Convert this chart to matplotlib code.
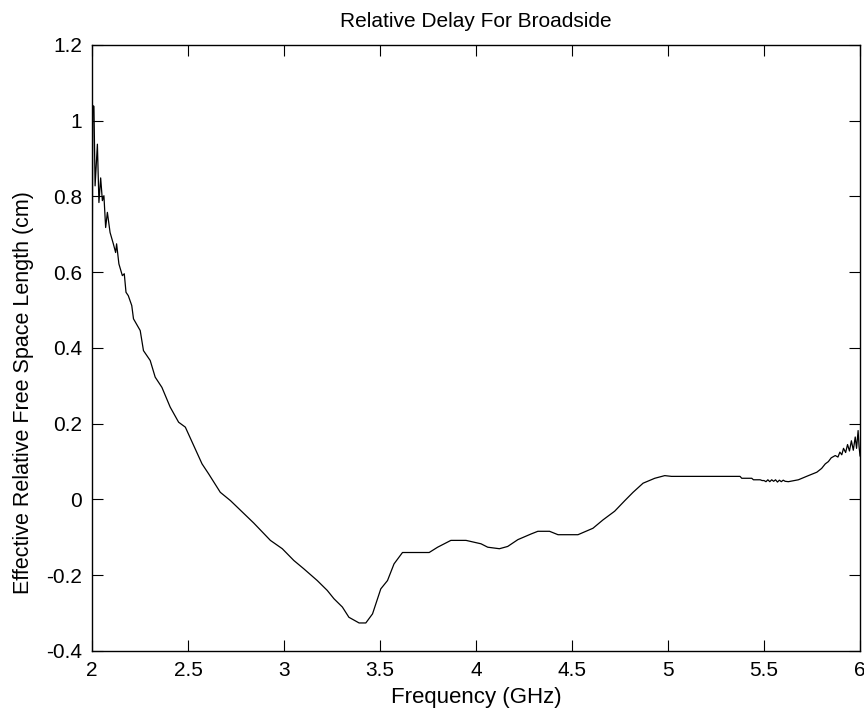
import numpy as np
import matplotlib
matplotlib.use("Agg")
import matplotlib.pyplot as plt

plt.rcParams['font.family'] = ['Liberation Sans', 'DejaVu Sans']

# frequency (GHz) and effective relative free space length (cm)
freq = [2.000, 2.004, 2.010, 2.016, 2.028, 2.036, 2.045, 2.054, 2.062, 2.071,
        2.080, 2.094, 2.111, 2.123, 2.128, 2.140, 2.158, 2.168, 2.177, 2.189,
        2.207, 2.216, 2.251, 2.268, 2.303, 2.329, 2.364, 2.407, 2.451, 2.486,
        2.573, 2.607, 2.668, 2.721, 2.842, 2.929, 2.991, 3.051, 3.103, 3.173,
        3.225, 3.260, 3.304, 3.338, 3.391, 3.426, 3.461, 3.504, 3.539, 3.573,
        3.617, 3.756, 3.800, 3.869, 3.948, 3.974, 4.026, 4.061, 4.122, 4.165,
        4.218, 4.287, 4.322, 4.383, 4.427, 4.531, 4.609, 4.661, 4.722, 4.775,
        4.818, 4.870, 4.931, 4.983, 5.018, 5.375, 5.384, 5.436, 5.445, 5.480,
        5.490, 5.500, 5.510, 5.520, 5.530, 5.540, 5.550, 5.560, 5.570, 5.580,
        5.590, 5.600, 5.610, 5.627, 5.679, 5.731, 5.775, 5.800, 5.819, 5.835,
        5.850, 5.871, 5.885, 5.895, 5.905, 5.914, 5.925, 5.935, 5.945, 5.955,
        5.965, 5.975, 5.982, 5.990, 5.995, 6.000]
length = [0.400, 1.040, 1.038, 0.828, 0.938, 0.784, 0.849, 0.789, 0.802, 0.718,
          0.758, 0.705, 0.675, 0.652, 0.675, 0.622, 0.591, 0.596, 0.547, 0.538,
          0.512, 0.477, 0.446, 0.393, 0.367, 0.323, 0.296, 0.244, 0.204, 0.191,
          0.094, 0.068, 0.019, -0.003, -0.062, -0.108, -0.130, -0.161, -0.183, -0.214,
          -0.240, -0.262, -0.284, -0.311, -0.326, -0.326, -0.302, -0.236, -0.214, -0.170,
          -0.140, -0.140, -0.126, -0.108, -0.108, -0.111, -0.117, -0.126, -0.130, -0.124,
          -0.106, -0.091, -0.084, -0.084, -0.093, -0.093, -0.076, -0.054, -0.031, -0.003,
          0.019, 0.043, 0.056, 0.063, 0.061, 0.061, 0.056, 0.056, 0.052, 0.052,
          0.050, 0.050, 0.047, 0.052, 0.047, 0.052, 0.048, 0.052, 0.046, 0.051,
          0.047, 0.051, 0.048, 0.047, 0.052, 0.063, 0.072, 0.082, 0.094, 0.100,
          0.110, 0.116, 0.112, 0.125, 0.118, 0.135, 0.124, 0.145, 0.128, 0.155,
          0.130, 0.165, 0.135, 0.182, 0.140, 0.115]

fig = plt.figure(figsize=(8.64, 7.16), dpi=100)
ax = fig.add_axes([0.1065, 0.0908, 0.8889, 0.8464])
ax.plot(freq, length, color='black', linewidth=0.9)

ax.set_xlim(2, 6)
ax.set_ylim(-0.4, 1.2)
ax.set_xticks([2, 2.5, 3, 3.5, 4, 4.5, 5, 5.5, 6])
ax.set_xticklabels(['2', '2.5', '3', '3.5', '4', '4.5', '5', '5.5', '6'])
ax.set_yticks(np.arange(-0.4, 1.21, 0.2))
ax.set_yticklabels(['-0.4', '-0.2', '0', '0.2', '0.4', '0.6', '0.8', '1', '1.2'])
ax.tick_params(direction='in', length=8, width=0.8, top=True, right=True,
               labelsize=15, pad=7)
for s in ax.spines.values():
    s.set_linewidth(1.0)

ax.set_xlabel('Frequency (GHz)', fontsize=16, labelpad=5)
ax.set_ylabel('Effective Relative Free Space Length (cm)', fontsize=15.5)
# the label sits a bit below the middle of the axis in the original
ax.yaxis.set_label_coords(-0.076, 0.427)
ax.set_title('Relative Delay For Broadside', fontsize=15, pad=13)

fig.savefig('out.png', dpi=100)
